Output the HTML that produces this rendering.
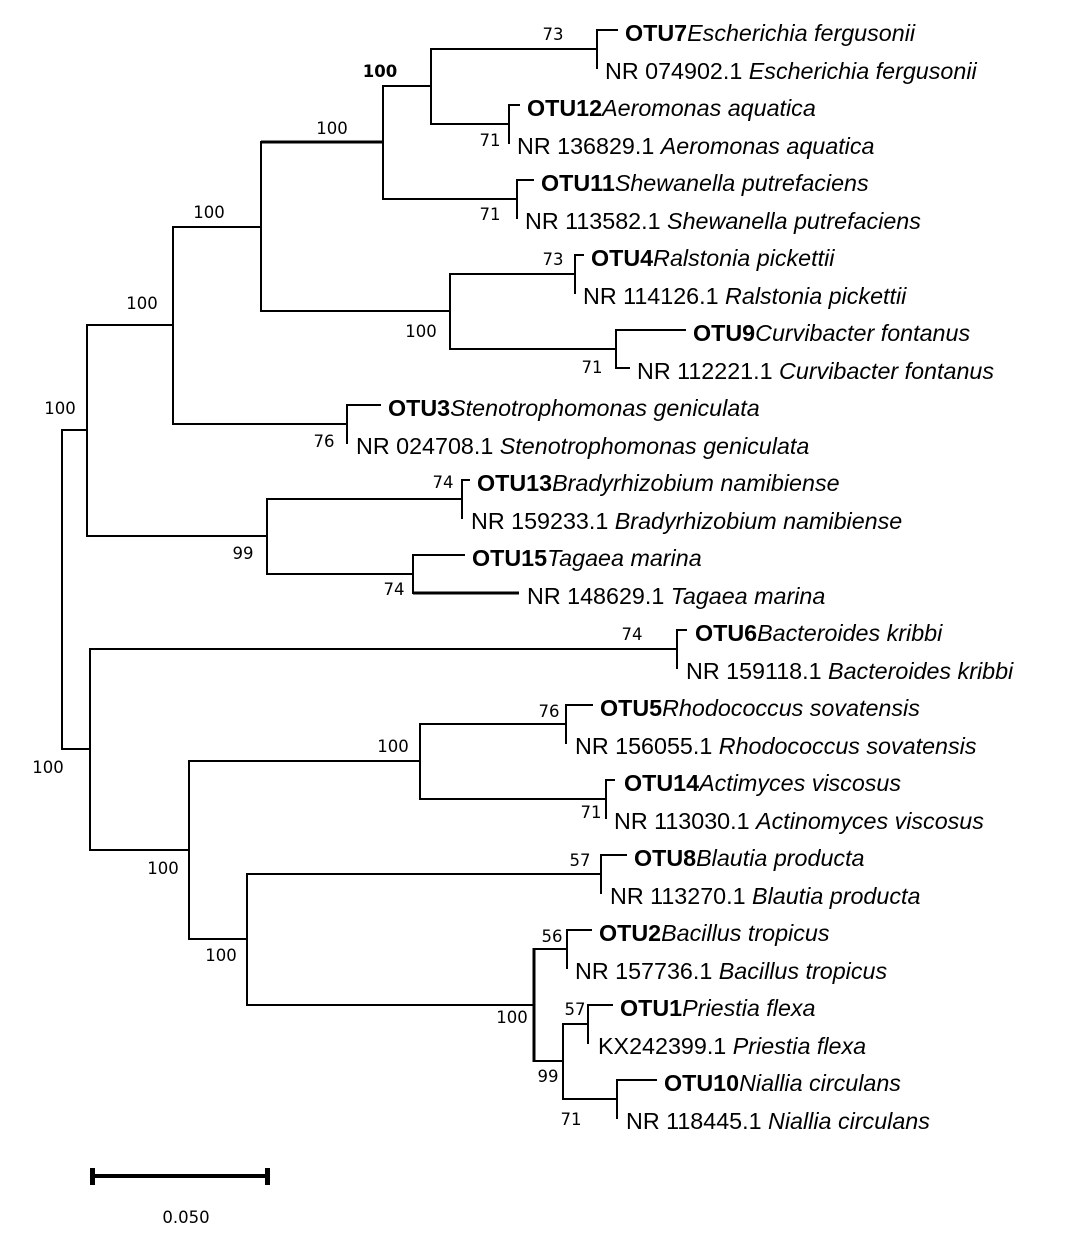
<!DOCTYPE html>
<html><head><meta charset="utf-8"><style>
html,body{margin:0;padding:0;background:#fff;}
svg{display:block;}
.t{font-family:"Liberation Sans",Arial,sans-serif;font-size:23.3px;fill:#000;}
.n{font-family:"DejaVu Sans","Liberation Sans",sans-serif;font-size:16.5px;fill:#000;text-anchor:middle;}
.b{font-weight:bold;}
.i{font-style:italic;}
</style></head><body>
<svg width="1069" height="1242" viewBox="0 0 1069 1242" xmlns="http://www.w3.org/2000/svg">
<rect width="1069" height="1242" fill="#fff"/>
<g stroke="#000" stroke-width="2" fill="none" stroke-linecap="square">
<path d="M62 430V749M62 430H87M62 749H90"/>
<path d="M87 325V536M87 325H173M87 536H267"/>
<path d="M173 227V424M173 227H261M173 424H347"/>
<path d="M261 142V311M261 311H450"/>
<path d="M383 86V199M383 86H431M383 199H517"/>
<path d="M431 49V124M431 49H597M431 124H509"/>
<path d="M450 274V349M450 274H575M450 349H616"/>
<path d="M267 499V574M267 499H462M267 574H413"/>
<path d="M90 649V850M90 649H677M90 850H189"/>
<path d="M189 761V939M189 761H420M189 939H247"/>
<path d="M420 724V799M420 724H566M420 799H606"/>
<path d="M247 874V1005M247 874H601M247 1005H534"/>
<path d="M534 949H567M534 1061H563"/>
<path d="M563 1024V1099M563 1024H588M563 1099H617"/>
<path d="M597 30V68M597 30H617"/>
<path d="M509 105V143M509 105H519"/>
<path d="M517 180V218M517 180H533"/>
<path d="M575 255V293M575 255H583"/>
<path d="M616 330V368M616 330H685M616 368H629"/>
<path d="M347 405V443M347 405H380"/>
<path d="M462 480V518M462 480H469"/>
<path d="M413 555V593M413 555H464"/>
<path d="M677 630V668M677 630H686"/>
<path d="M566 705V743M566 705H592"/>
<path d="M606 780V818M606 780H614"/>
<path d="M601 855V893M601 855H626"/>
<path d="M567 930V968M567 930H591"/>
<path d="M588 1005V1043M588 1005H612"/>
<path d="M617 1080V1118M617 1080H656"/>
</g>
<g stroke="#000" stroke-width="3" fill="none">
<path d="M261 142H383"/>
<path d="M534 948V1062"/>
<path d="M413 593H519"/>
</g>
<rect x="92" y="1174" width="176" height="4" fill="#000"/>
<rect x="90" y="1168" width="5" height="17" fill="#000"/>
<rect x="265" y="1168" width="5" height="17" fill="#000"/>
<text class="n" x="186" y="1223">0.050</text>

<g class="t">
<text x="625" y="41"><tspan class="b">OTU7</tspan><tspan class="i">Escherichia fergusonii</tspan></text>
<text x="605" y="79">NR 074902.1 <tspan class="i">Escherichia fergusonii</tspan></text>
<text x="527" y="116"><tspan class="b">OTU12</tspan><tspan class="i">Aeromonas aquatica</tspan></text>
<text x="517" y="154">NR 136829.1 <tspan class="i">Aeromonas aquatica</tspan></text>
<text x="541" y="191"><tspan class="b">OTU11</tspan><tspan class="i">Shewanella putrefaciens</tspan></text>
<text x="525" y="229">NR 113582.1 <tspan class="i">Shewanella putrefaciens</tspan></text>
<text x="591" y="266"><tspan class="b">OTU4</tspan><tspan class="i">Ralstonia pickettii</tspan></text>
<text x="583" y="304">NR 114126.1 <tspan class="i">Ralstonia pickettii</tspan></text>
<text x="693" y="341"><tspan class="b">OTU9</tspan><tspan class="i">Curvibacter fontanus</tspan></text>
<text x="637" y="379">NR 112221.1 <tspan class="i">Curvibacter fontanus</tspan></text>
<text x="388" y="416"><tspan class="b">OTU3</tspan><tspan class="i">Stenotrophomonas geniculata</tspan></text>
<text x="356" y="454">NR 024708.1 <tspan class="i">Stenotrophomonas geniculata</tspan></text>
<text x="477" y="491"><tspan class="b">OTU13</tspan><tspan class="i">Bradyrhizobium namibiense</tspan></text>
<text x="471" y="529">NR 159233.1 <tspan class="i">Bradyrhizobium namibiense</tspan></text>
<text x="472" y="566"><tspan class="b">OTU15</tspan><tspan class="i">Tagaea marina</tspan></text>
<text x="527" y="604">NR 148629.1 <tspan class="i">Tagaea marina</tspan></text>
<text x="695" y="641"><tspan class="b">OTU6</tspan><tspan class="i">Bacteroides kribbi</tspan></text>
<text x="686" y="679">NR 159118.1 <tspan class="i">Bacteroides kribbi</tspan></text>
<text x="600" y="716"><tspan class="b">OTU5</tspan><tspan class="i">Rhodococcus sovatensis</tspan></text>
<text x="575" y="754">NR 156055.1 <tspan class="i">Rhodococcus sovatensis</tspan></text>
<text x="624" y="791"><tspan class="b">OTU14</tspan><tspan class="i">Actimyces viscosus</tspan></text>
<text x="614" y="829">NR 113030.1 <tspan class="i">Actinomyces viscosus</tspan></text>
<text x="634" y="866"><tspan class="b">OTU8</tspan><tspan class="i">Blautia producta</tspan></text>
<text x="610" y="904">NR 113270.1 <tspan class="i">Blautia producta</tspan></text>
<text x="599" y="941"><tspan class="b">OTU2</tspan><tspan class="i">Bacillus tropicus</tspan></text>
<text x="575" y="979">NR 157736.1 <tspan class="i">Bacillus tropicus</tspan></text>
<text x="620" y="1016"><tspan class="b">OTU1</tspan><tspan class="i">Priestia flexa</tspan></text>
<text x="598" y="1054">KX242399.1 <tspan class="i">Priestia flexa</tspan></text>
<text x="664" y="1091"><tspan class="b">OTU10</tspan><tspan class="i">Niallia circulans</tspan></text>
<text x="626" y="1129">NR 118445.1 <tspan class="i">Niallia circulans</tspan></text>
</g>

<g class="n">
<text x="553" y="40">73</text>
<text x="380" y="77" font-weight="bold">100</text>
<text x="332" y="134">100</text>
<text x="490" y="146">71</text>
<text x="490" y="220">71</text>
<text x="209" y="218">100</text>
<text x="142" y="309">100</text>
<text x="60" y="414">100</text>
<text x="553" y="265">73</text>
<text x="421" y="337">100</text>
<text x="592" y="373">71</text>
<text x="324" y="447">76</text>
<text x="443" y="488">74</text>
<text x="243" y="559">99</text>
<text x="394" y="595">74</text>
<text x="632" y="640">74</text>
<text x="549" y="717">76</text>
<text x="393" y="752">100</text>
<text x="591" y="818">71</text>
<text x="48" y="773">100</text>
<text x="163" y="874">100</text>
<text x="580" y="866">57</text>
<text x="221" y="961">100</text>
<text x="552" y="942">56</text>
<text x="512" y="1023">100</text>
<text x="575" y="1015">57</text>
<text x="548" y="1082">99</text>
<text x="571" y="1125">71</text>
</g>
</svg>
</body></html>
